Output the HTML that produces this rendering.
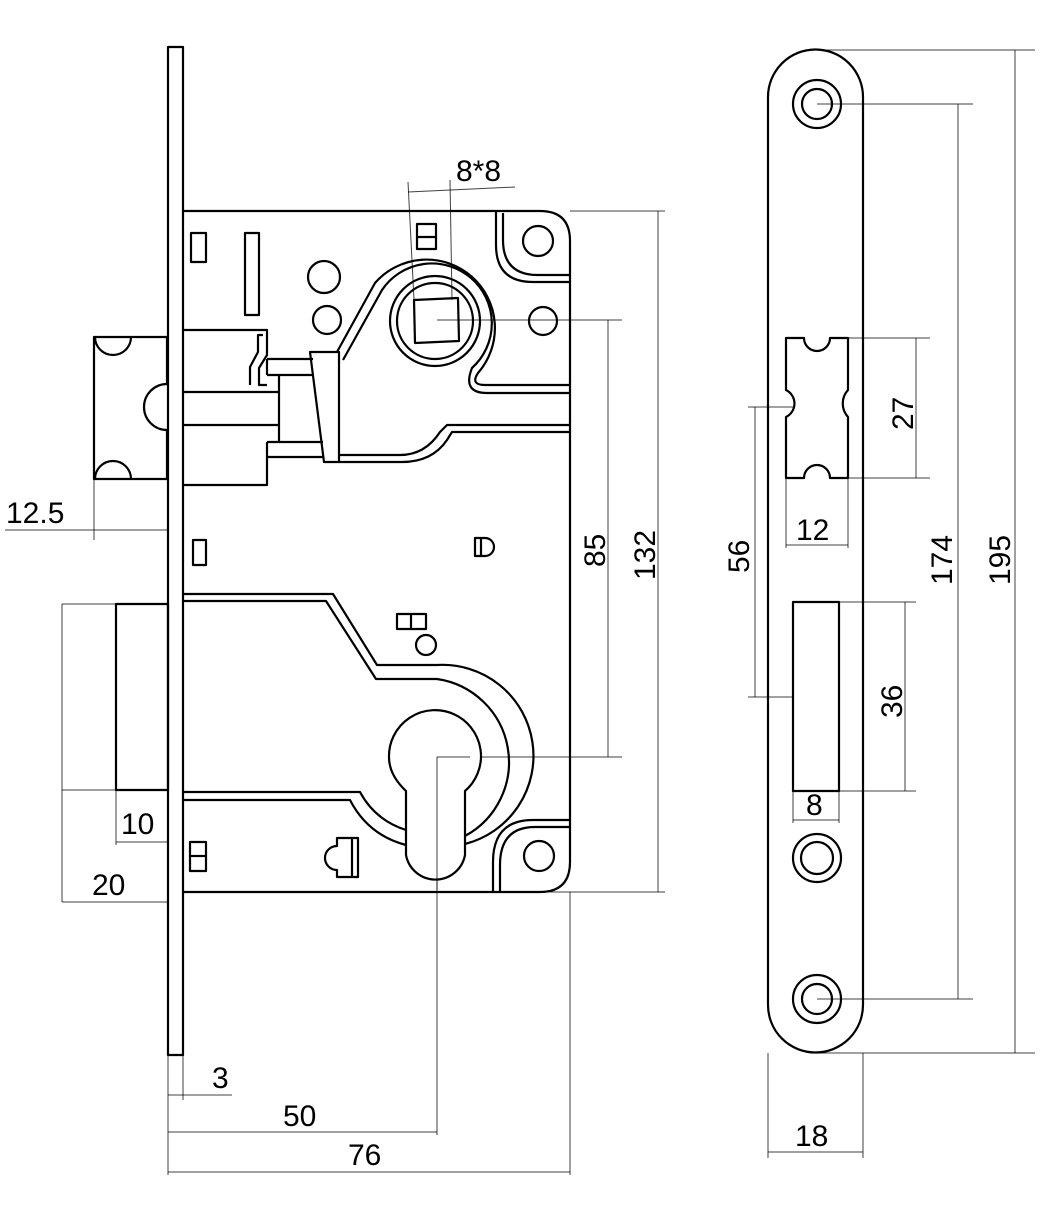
<!DOCTYPE html>
<html><head><meta charset="utf-8"><style>
html,body{margin:0;padding:0;background:#fff}
svg{display:block}
text{font-family:"Liberation Sans",sans-serif;font-size:30px;fill:#000}
</style></head><body>
<svg width="1062" height="1220" viewBox="0 0 1062 1220" xmlns="http://www.w3.org/2000/svg">
<g fill="none" stroke="#000" stroke-width="1" stroke-opacity="0.75">
<line x1="408" y1="192" x2="515" y2="187"/><line x1="408" y1="182" x2="414" y2="300"/><line x1="450" y1="180" x2="452" y2="300"/>
<line x1="570" y1="211" x2="665" y2="211"/><line x1="548" y1="892" x2="665" y2="892"/><line x1="658" y1="211" x2="658" y2="892"/>
<line x1="437" y1="320" x2="622" y2="320"/><line x1="437" y1="757" x2="622" y2="757"/><line x1="608" y1="320" x2="608" y2="757"/>
<line x1="5" y1="530" x2="168" y2="530"/><line x1="94" y1="479" x2="94" y2="540"/>
<line x1="116" y1="790" x2="116" y2="845"/><line x1="116" y1="842" x2="168" y2="842"/>
<line x1="62" y1="604" x2="62" y2="902"/><line x1="62" y1="604" x2="116" y2="604"/><line x1="62" y1="790" x2="116" y2="790"/><line x1="62" y1="902" x2="168" y2="902"/>
<line x1="168" y1="1055" x2="168" y2="1175"/><line x1="183" y1="1055" x2="183" y2="1100"/><line x1="168" y1="1095" x2="232" y2="1095"/>
<line x1="168" y1="1132" x2="437" y2="1132"/><line x1="437" y1="757" x2="437" y2="1135"/>
<line x1="168" y1="1172" x2="570" y2="1172"/><line x1="570" y1="892" x2="570" y2="1175"/>
<line x1="817" y1="50" x2="1035" y2="50"/><line x1="817" y1="1053" x2="1035" y2="1053"/><line x1="1015" y1="50" x2="1015" y2="1053"/>
<line x1="817" y1="104" x2="973" y2="104"/><line x1="817" y1="999" x2="973" y2="999"/><line x1="958" y1="104" x2="958" y2="999"/>
<line x1="848" y1="338" x2="930" y2="338"/><line x1="848" y1="478" x2="930" y2="478"/><line x1="916" y1="338" x2="916" y2="478"/>
<line x1="786" y1="478" x2="786" y2="548"/><line x1="848" y1="478" x2="848" y2="548"/><line x1="786" y1="545" x2="848" y2="545"/>
<line x1="748" y1="407" x2="794" y2="407"/><line x1="748" y1="697" x2="793" y2="697"/><line x1="755" y1="407" x2="755" y2="697"/>
<line x1="839" y1="602" x2="916" y2="602"/><line x1="839" y1="791" x2="916" y2="791"/><line x1="905" y1="602" x2="905" y2="791"/>
<line x1="793" y1="791" x2="793" y2="823"/><line x1="839" y1="791" x2="839" y2="823"/><line x1="793" y1="820" x2="839" y2="820"/>
<line x1="768" y1="1053" x2="768" y2="1158"/><line x1="863" y1="1053" x2="863" y2="1158"/><line x1="768" y1="1152" x2="863" y2="1152"/>
</g>
<g fill="none" stroke="#000" stroke-width="2.2" stroke-linejoin="round">
<rect x="168" y="47" width="15" height="1008"/>
<path d="M183 211 H540 Q570 211 570 241 V862 Q570 892 540 892 H183"/>
<path d="M167 337 H94 V479 H167 V430 A23 23 0 0 1 167 384 Z"/>
<path d="M95 337 A18 18 0 0 0 131 337"/>
<path d="M95 479 A18 18 0 0 1 131 479"/>
<rect x="116" y="604" width="52" height="186"/>
<rect x="191" y="233" width="15" height="29"/>
<rect x="245" y="233" width="14" height="82"/>
<circle cx="324" cy="277" r="16"/><circle cx="327" cy="320" r="14"/>
<rect x="417" y="224" width="19" height="25"/><line x1="417" y1="237" x2="436" y2="237"/>
<circle cx="435" cy="321" r="45"/><circle cx="435" cy="321" r="38"/>
<path d="M414 300 L458 298 L459 341 L415 343 Z"/>
<circle cx="543" cy="321" r="14"/><circle cx="538" cy="241" r="15"/>
<path d="M337 352 L375 283 A68 68 0 1 1 478 373 Q470 385 485 385 H570"/>
<path d="M343 360 L382 290 A60 60 0 1 1 472 368 Q462 393 487 393 H570"/>
<path d="M496 211 V245 Q496 282 533 282 H570"/>
<path d="M503 213 V240 Q503 275 538 275 H570"/>
<path d="M183 330 H267 V355 L259 368 V385 H267"/>
<path d="M250 385 V367 L258 352 V335 H263"/>
<path d="M267 359 H313 M267 375 H313 M267 359 V375"/>
<path d="M183 392 H279 M183 425 H279 M279 375 V442"/>
<path d="M267 442 H323 M267 457 H323 M267 442 V485 H183"/>
<path d="M310 352 H339 V462 H324 Z"/>
<path d="M339 455 H400 Q425 455 440 432 L447 425 H570"/>
<path d="M339 462 H402 Q432 462 447 440 L452 432 H570"/>
<rect x="193" y="540" width="13" height="25"/>
<path d="M475 538 H485 A9 9 0 0 1 485 556 H475 Z"/><line x1="481" y1="538" x2="481" y2="556"/>
<path d="M183 594 H333 L377 665 H437 A91 91 0 0 1 465 844"/>
<path d="M183 601 H326 L376 679 H437 A84 84 0 0 1 465 836"/>
<path d="M183 792 H360 Q375 820 406 830"/>
<path d="M183 800 H350 Q368 835 406 845"/>
<path d="M406 791 Q389 775 389 757 A46 46 0 1 1 465 791 V855 A30 30 0 0 1 406 855 Z" fill="#fff"/>
<rect x="397" y="614" width="29" height="15"/><line x1="411" y1="614" x2="411" y2="629"/>
<circle cx="426" cy="645" r="10"/>
<rect x="190" y="842" width="16" height="29"/><line x1="190" y1="856" x2="206" y2="856"/>
<path d="M337 838 H358 V877 H337 V870 A12 12 0 0 1 337 846 Z"/><line x1="352" y1="838" x2="352" y2="877"/>
<path d="M493 892 V862 Q493 820 533 820 H570"/>
<path d="M500 892 V865 Q500 827 535 827 H570"/>
<circle cx="539" cy="856" r="15"/>
<path d="M768 1005 V97 A47.5 47.5 0 0 1 863 97 V1005 A47.5 47.5 0 0 1 768 1005 Z"/>
<circle cx="817" cy="104" r="24"/><circle cx="817" cy="104" r="15"/>
<circle cx="817" cy="858" r="24"/><circle cx="817" cy="858" r="16"/>
<circle cx="817" cy="999" r="24"/><circle cx="817" cy="999" r="15"/>
<path d="M786 338 H804 A13 13 0 0 0 830 338 H848 V390 A20 20 0 0 0 848 417 V478 H830 A13 13 0 0 0 804 478 H786 V417 A15 15 0 0 0 786 390 Z"/>
<rect x="793" y="602" width="46" height="189"/>
</g>
<line x1="437" y1="757" x2="437" y2="890" stroke="#000" stroke-width="1" stroke-opacity="0.75"/>
<line x1="437" y1="757" x2="470" y2="757" stroke="#000" stroke-width="1" stroke-opacity="0.75"/>
<text x="456" y="181">8*8</text>
<text x="6" y="523">12.5</text>
<text x="121" y="834">10</text>
<text x="92" y="895">20</text>
<text x="212" y="1088">3</text>
<text x="283" y="1126">50</text>
<text x="348" y="1165">76</text>
<text x="796" y="540">12</text>
<text x="806" y="815">8</text>
<text x="795" y="1146">18</text>
<text transform="translate(605,567) rotate(-90)">85</text>
<text transform="translate(655,580) rotate(-90)">132</text>
<text transform="translate(913,430) rotate(-90)">27</text>
<text transform="translate(749,573) rotate(-90)">56</text>
<text transform="translate(902,718) rotate(-90)">36</text>
<text transform="translate(952,585) rotate(-90)">174</text>
<text transform="translate(1010,585) rotate(-90)">195</text>
</svg>
</body></html>
